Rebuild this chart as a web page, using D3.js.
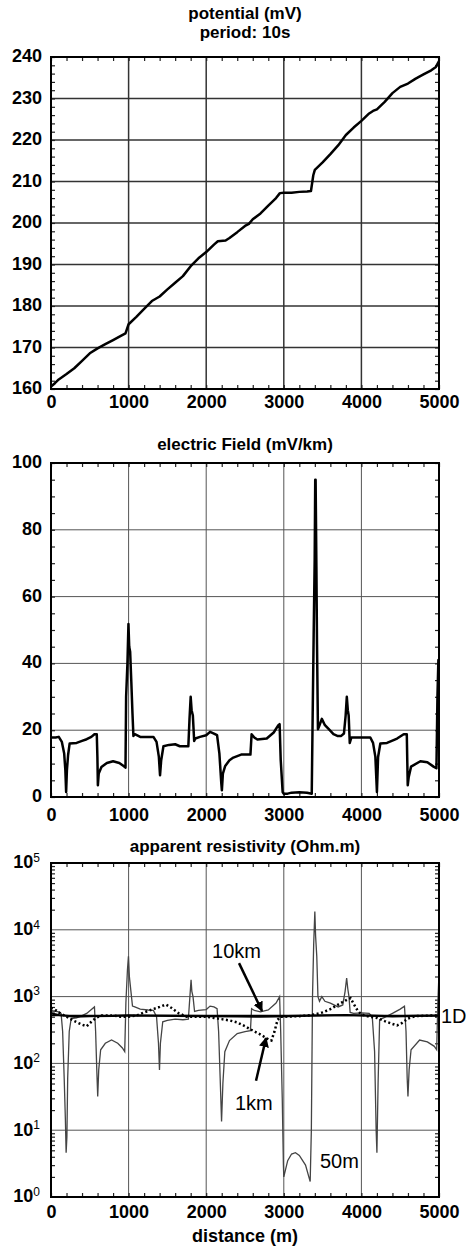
<!DOCTYPE html>
<html>
<head>
<meta charset="utf-8">
<script src="https://cdn.jsdelivr.net/npm/d3@7"></script>
<style>
  body { margin: 0; background: #fff; }
  text { font-family: "Liberation Sans", Arial, sans-serif; }
</style>
</head>
<body>
<svg id="chart"></svg>
<script>
// distance ticks shared by the three panels
var distTicks = [0, 1000, 2000, 3000, 4000, 5000];

// potential (mV), period 10s
var potentialDist = [0, 50, 100, 200, 300, 400, 500, 600, 700, 800, 900, 960, 1000, 1100, 1200, 1300, 1400, 1500, 1600, 1700, 1800, 1900, 2000, 2100, 2150, 2250, 2300, 2400, 2500, 2550, 2600, 2700, 2800, 2900, 2950, 3000, 3100, 3200, 3300, 3350, 3380, 3400, 3500, 3600, 3700, 3800, 3900, 4000, 4100, 4150, 4200, 4300, 4400, 4500, 4600, 4700, 4800, 4900, 4960, 5000];
var potentialVal = [160.6, 161.4, 162.3, 163.6, 165, 166.8, 168.6, 169.8, 170.8, 171.8, 172.8, 173.4, 175.6, 177.4, 179.3, 181.2, 182.3, 184, 185.6, 187.2, 189.6, 191.5, 193, 194.8, 195.6, 195.8, 196.4, 197.8, 199.3, 199.8, 200.9, 202.3, 204.2, 206, 207.2, 207.3, 207.3, 207.5, 207.6, 207.7, 211.5, 212.8, 214.6, 216.6, 218.7, 221.2, 223, 224.6, 226.4, 227, 227.4, 229.2, 231.3, 232.8, 233.6, 234.8, 235.8, 236.8, 237.6, 239];
var potentialTicks = [160, 170, 180, 190, 200, 210, 220, 230, 240];

// electric field (mV/km)
var fieldDist = [0, 60, 100, 140, 170, 185, 195, 205, 220, 240, 330, 400, 460, 520, 560, 590, 598, 604, 615, 650, 720, 800, 880, 940, 960, 968, 985, 998, 1008, 1020, 1035, 1050, 1062, 1080, 1150, 1320, 1360, 1390, 1405, 1420, 1449, 1520, 1600, 1660, 1770, 1785, 1800, 1812, 1828, 1845, 1860, 1920, 2000, 2050, 2100, 2140, 2170, 2195, 2202, 2215, 2245, 2300, 2350, 2450, 2570, 2585, 2620, 2660, 2780, 2870, 2930, 2946, 2960, 2985, 2998, 3050, 3100, 3200, 3300, 3360, 3372, 3385, 3398, 3405, 3410, 3420, 3428, 3440, 3460, 3490, 3530, 3580, 3640, 3690, 3740, 3775, 3797, 3812, 3825, 3836, 3850, 3870, 3900, 4115, 4150, 4180, 4200, 4215, 4244, 4330, 4460, 4545, 4585, 4597, 4610, 4640, 4760, 4850, 4930, 4967, 4980, 4992, 5000];
var fieldVal = [17.8, 17.8, 18, 16.5, 13, 8, 1.5, 8, 12.5, 16, 16.2, 16.8, 17.3, 18, 18.8, 18.8, 12, 3.5, 7, 9, 10.2, 10.7, 10.2, 9.2, 8.8, 30, 40, 51.8, 45, 43.5, 34.5, 25, 18.3, 18.8, 18, 18, 16.5, 12, 6.5, 11, 15.2, 15.6, 15.8, 15.2, 15.2, 23.4, 30, 26, 24.4, 16.8, 17.5, 18, 18.5, 19.5, 19, 18.5, 13, 4, 2, 7, 9.3, 11, 11.8, 12.7, 12.7, 18.8, 17.8, 17.2, 17.5, 19.3, 21.5, 21.8, 11.2, 1.5, 1, 1, 1.3, 1.4, 1.3, 1, 24.4, 48.7, 71, 95, 95, 69, 45.7, 20.3, 21.5, 23.4, 21.5, 20.3, 18.8, 18.3, 18.3, 19, 24.4, 30, 26, 24.4, 16.2, 17.8, 17.8, 17.8, 16.2, 12, 1.5, 12, 16, 16.2, 17.5, 18.8, 18.8, 3.5, 6, 9.1, 10.7, 10.4, 9.1, 8.6, 30, 41, 41];
var fieldTicks = [0, 20, 40, 60, 80, 100];

// apparent resistivity (Ohm.m), one series per sounding
var rho50mDist = [0, 60, 100, 130, 150, 170, 185, 195, 205, 215, 235, 260, 330, 400, 460, 520, 560, 575, 590, 602, 615, 640, 700, 780, 860, 920, 950, 965, 985, 998, 1010, 1030, 1050, 1080, 1150, 1250, 1320, 1360, 1385, 1398, 1410, 1440, 1500, 1600, 1700, 1770, 1790, 1805, 1815, 1830, 1850, 1900, 2000, 2050, 2100, 2140, 2160, 2180, 2198, 2215, 2240, 2300, 2400, 2500, 2570, 2585, 2620, 2700, 2800, 2900, 2946, 2960, 2980, 2995, 3000, 3050, 3100, 3150, 3200, 3280, 3340, 3355, 3370, 3385, 3400, 3410, 3425, 3440, 3460, 3490, 3530, 3600, 3700, 3760, 3790, 3810, 3825, 3840, 3855, 3900, 4000, 4100, 4140, 4170, 4190, 4200, 4215, 4235, 4300, 4400, 4500, 4555, 4575, 4590, 4600, 4615, 4640, 4750, 4850, 4940, 4970, 4985, 5000];
var rho50mVal = [620, 600, 590, 560, 300, 60, 15, 4.6, 8, 60, 300, 470, 480, 520, 560, 640, 700, 300, 80, 32, 80, 160, 200, 225, 200, 170, 150, 800, 2500, 4000, 2000, 1200, 720, 700, 650, 630, 620, 500, 200, 80, 200, 420, 440, 460, 450, 460, 1000, 1780, 1200, 1000, 600, 620, 640, 720, 700, 660, 300, 60, 13.5, 50, 150, 220, 280, 300, 310, 660, 620, 590, 630, 800, 1000, 300, 30, 3, 2, 3.5, 4.4, 4.6, 4.2, 3, 1.7, 10, 1000, 6000, 18700, 8000, 4000, 1000, 850, 1000, 850, 800, 700, 750, 1200, 1900, 1300, 1000, 580, 560, 570, 560, 500, 150, 10, 4.6, 50, 450, 490, 560, 650, 720, 300, 60, 32, 80, 160, 224, 210, 180, 160, 800, 2240];
var rho1kmDist = [0, 50, 100, 200, 300, 400, 460, 520, 580, 650, 800, 900, 1000, 1100, 1200, 1300, 1400, 1480, 1550, 1650, 1750, 2000, 2100, 2200, 2300, 2400, 2500, 2600, 2700, 2800, 2840, 2880, 2920, 2960, 3000, 3200, 3300, 3400, 3500, 3600, 3700, 3800, 3860, 3900, 3950, 4000, 4100, 4200, 4300, 4400, 4460, 4520, 4600, 4700, 4900, 5000];
var rho1kmVal = [680, 640, 580, 500, 430, 380, 360, 420, 480, 520, 520, 500, 500, 520, 580, 640, 700, 760, 680, 560, 500, 500, 480, 460, 440, 410, 360, 310, 270, 230, 220, 300, 450, 500, 500, 510, 520, 540, 580, 650, 760, 880, 950, 780, 620, 540, 500, 480, 430, 390, 370, 400, 470, 510, 520, 520];
var rho10kmDist = [0, 100, 300, 500, 800, 1000, 1200, 1600, 2000, 2400, 2700, 2900, 3200, 3500, 3800, 4100, 4400, 4700, 5000];
var rho10kmVal = [560, 530, 500, 510, 515, 525, 520, 515, 510, 505, 500, 505, 515, 525, 530, 520, 505, 515, 520];
var rho1DDist = [0, 5000];
var rho1DVal = [520, 520];
var rhoTicks = [1, 10, 100, 1000, 10000, 100000];

// curve labels, placed in data units
var labelText = ["10km", "1km", "50m"];
var labelDist = [2075, 2371, 3466];
var labelRho = [3790, 20, 2.7];
var arrowFrom = [[2423, 3170], [2642, 55]];
var arrowTo = [[2719, 610], [2771, 240]];

((() => {

  var width = 466;
  var height = 1249;

  var svg = d3.select("#chart")
    .attr("width", width)
    .attr("height", height);

  svg.append("defs").append("marker")
    .attr("id", "head")
    .attr("viewBox", "0 0 10 10")
    .attr("refX", 9)
    .attr("refY", 5)
    .attr("markerWidth", 4)
    .attr("markerHeight", 4)
    .attr("orient", "auto")
    .append("path")
    .attr("d", "M0,0L10,5L0,10z")
    .attr("fill", "#000");

  var left = 51, right = 439;

  // shared distance scale
  var x = d3.scaleLinear().domain([0, 5000]).range([left, right]);
  var minorX = d3.range(0, 5001, 200);

  var toPoints = (xs, ys) => d3.zip(xs, ys);

  // frame, grid, inward ticks and labels of one panel
  function drawPanel(p) {
    var g = svg.append("g");
    var top = p.y.range()[1], bottom = p.y.range()[0];

    // grid
    g.append("g")
      .selectAll("line.gx")
      .data(distTicks.slice(1, -1))
      .enter()
      .append("line")
      .attr("x1", d => x(d)).attr("x2", d => x(d))
      .attr("y1", top).attr("y2", bottom)
      .attr("stroke", p.gridColor).attr("stroke-width", p.gridWidth);
    g.append("g")
      .selectAll("line.gy")
      .data(p.majorY.slice(1, -1))
      .enter()
      .append("line")
      .attr("x1", left).attr("x2", right)
      .attr("y1", d => p.y(d)).attr("y2", d => p.y(d))
      .attr("stroke", p.gridColor).attr("stroke-width", p.gridWidth);

    // minor ticks pointing inwards on every side
    var tickSides = [
      [d3.axisBottom(x).tickValues(minorX), `translate(0,${bottom})`],
      [d3.axisTop(x).tickValues(minorX), `translate(0,${top})`],
      [d3.axisLeft(p.y).tickValues(p.minorY), `translate(${left},0)`],
      [d3.axisRight(p.y).tickValues(p.minorY), `translate(${right},0)`]
    ];
    tickSides.forEach(s => {
      g.append("g")
        .attr("transform", s[1])
        .call(s[0].tickSize(-4).tickFormat(""))
        .call(a => a.select(".domain").remove())
        .selectAll("line")
        .attr("stroke", "#222")
        .attr("stroke-width", 1.2);
    });

    // x labels
    g.append("g")
      .attr("transform", `translate(0,${bottom})`)
      .call(d3.axisBottom(x).tickValues(distTicks).tickSize(0).tickPadding(p.xPad).tickFormat(d3.format("d")))
      .call(a => a.select(".domain").remove())
      .selectAll("text")
      .attr("font-size", 18)
      .attr("font-weight", "bold")
      .attr("font-family", "Liberation Sans, Arial, sans-serif")
      .attr("fill", "#000");

    // y labels
    if (p.log) {
      g.append("g")
        .selectAll("text")
        .data(p.majorY)
        .enter()
        .append("text")
        .attr("x", left - 11)
        .attr("y", d => p.y(d))
        .attr("dy", "0.3em")
        .attr("text-anchor", "end")
        .attr("font-size", 18)
        .attr("font-weight", "bold")
        .each(function (d) {
          var t = d3.select(this);
          t.append("tspan").text("10");
          t.append("tspan")
            .attr("dy", "-0.55em")
            .attr("font-size", 12)
            .attr("font-weight", "normal")
            .text(Math.round(Math.log10(d)));
        });
    } else {
      g.append("g")
        .attr("transform", `translate(${left},0)`)
        .call(d3.axisLeft(p.y).tickValues(p.majorY).tickSize(0).tickPadding(9).tickFormat(d3.format("d")))
        .call(a => a.select(".domain").remove())
        .selectAll("text")
        .attr("dy", "0.25em")
        .attr("font-size", 18)
        .attr("font-weight", "bold")
        .attr("font-family", "Liberation Sans, Arial, sans-serif")
        .attr("fill", "#000");
    }

    // titles
    p.title.forEach((t, i) => {
      svg.append("text")
        .attr("x", (left + right) / 2)
        .attr("y", p.titleY + i * 19)
        .attr("text-anchor", "middle")
        .attr("font-size", 17)
        .attr("font-weight", "bold")
        .text(t);
    });

    return g;
  }

  function frame(p) {
    var top = p.y.range()[1], bottom = p.y.range()[0];
    svg.append("rect")
      .attr("x", left).attr("y", top)
      .attr("width", right - left).attr("height", bottom - top)
      .attr("fill", "none")
      .attr("stroke", "#000")
      .attr("stroke-width", 2);
  }

  // panel 1: potential
  var y1 = d3.scaleLinear().domain([160, 240]).range([389, 57]);
  var p1 = {
    y: y1, majorY: potentialTicks, minorY: d3.range(160, 241, 2),
    gridColor: "#333", gridWidth: 1.5, xPad: 6,
    title: ["potential (mV)", "period: 10s"], titleY: 19
  };
  drawPanel(p1);
  svg.append("path")
    .datum(toPoints(potentialDist, potentialVal))
    .attr("d", d3.line().x(d => x(d[0])).y(d => y1(d[1])))
    .attr("fill", "none")
    .attr("stroke", "#000")
    .attr("stroke-width", 2.5)
    .attr("stroke-linejoin", "round");
  frame(p1);

  // panel 2: electric field
  var y2 = d3.scaleLinear().domain([0, 100]).range([797, 463]);
  var p2 = {
    y: y2, majorY: fieldTicks, minorY: d3.range(0, 101, 5),
    gridColor: "#555", gridWidth: 1, xPad: 11,
    title: ["electric Field (mV/km)"], titleY: 450
  };
  drawPanel(p2);
  svg.append("path")
    .datum(toPoints(fieldDist, fieldVal))
    .attr("d", d3.line().x(d => x(d[0])).y(d => y2(d[1])))
    .attr("fill", "none")
    .attr("stroke", "#000")
    .attr("stroke-width", 2.5)
    .attr("stroke-linejoin", "round");
  frame(p2);

  // panel 3: apparent resistivity
  var y3 = d3.scaleLog().domain([1, 100000]).range([1197, 863]);
  var minorRho = [];
  [1, 10, 100, 1000, 10000].forEach(b => d3.range(2, 10).forEach(k => minorRho.push(b * k)));
  var p3 = {
    y: y3, majorY: rhoTicks, minorY: minorRho, log: true,
    gridColor: "#555", gridWidth: 1, xPad: 8,
    title: ["apparent resistivity (Ohm.m)"], titleY: 852
  };
  drawPanel(p3);

  var rhoLine = d3.line().x(d => x(d[0])).y(d => y3(d[1]));

  svg.append("path")
    .datum(toPoints(rho50mDist, rho50mVal))
    .attr("d", rhoLine)
    .attr("fill", "none")
    .attr("stroke", "#444")
    .attr("stroke-width", 1.3);
  svg.append("path")
    .datum(toPoints(rho1DDist, rho1DVal))
    .attr("d", rhoLine)
    .attr("fill", "none")
    .attr("stroke", "#000")
    .attr("stroke-width", 1.5);
  svg.append("path")
    .datum(toPoints(rho10kmDist, rho10kmVal))
    .attr("d", rhoLine)
    .attr("fill", "none")
    .attr("stroke", "#000")
    .attr("stroke-width", 2.2);
  svg.append("path")
    .datum(toPoints(rho1kmDist, rho1kmVal))
    .attr("d", rhoLine)
    .attr("fill", "none")
    .attr("stroke", "#000")
    .attr("stroke-width", 2.5)
    .attr("stroke-dasharray", "2,2.5");
  frame(p3);

  // curve labels and arrows
  svg.append("g")
    .selectAll("text")
    .data(labelText)
    .enter()
    .append("text")
    .attr("x", (d, i) => x(labelDist[i]))
    .attr("y", (d, i) => y3(labelRho[i]))
    .attr("font-size", 20)
    .text(d => d);

  svg.append("text")
    .attr("x", right + 2)
    .attr("y", y3(rho1DVal[1]))
    .attr("dy", "0.36em")
    .attr("font-size", 20)
    .text("1D");

  svg.append("g")
    .selectAll("line")
    .data(arrowFrom)
    .enter()
    .append("line")
    .attr("x1", d => x(d[0])).attr("y1", d => y3(d[1]))
    .attr("x2", (d, i) => x(arrowTo[i][0])).attr("y2", (d, i) => y3(arrowTo[i][1]))
    .attr("stroke", "#000")
    .attr("stroke-width", 2.5)
    .attr("marker-end", "url(#head)");

  // distance axis title
  svg.append("text")
    .attr("x", (left + right) / 2)
    .attr("y", 1242)
    .attr("text-anchor", "middle")
    .attr("font-size", 18)
    .attr("font-weight", "bold")
    .text("distance (m)");

})());
</script>
</body>
</html>
